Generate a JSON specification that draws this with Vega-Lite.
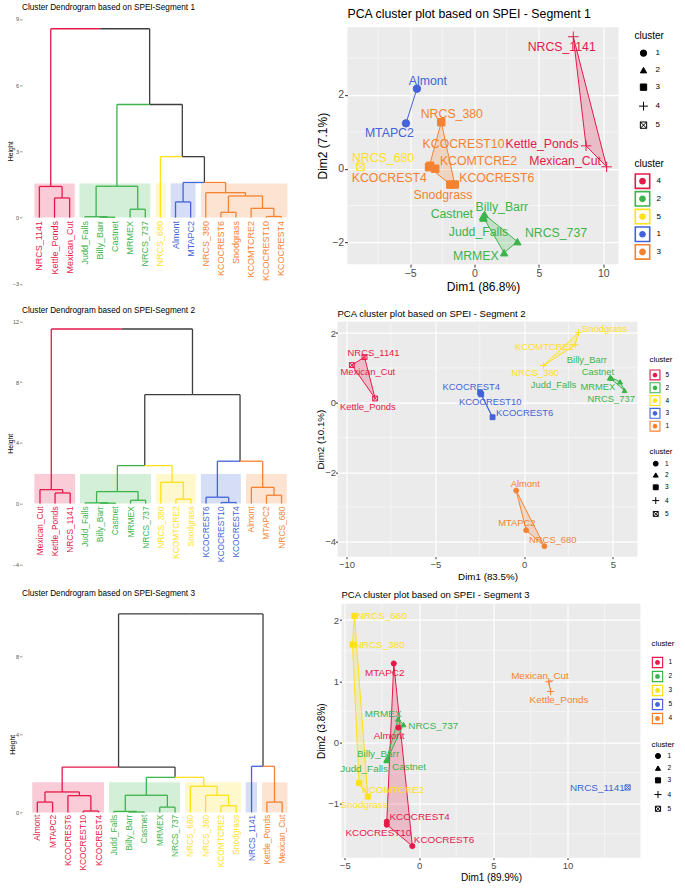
{
"$schema": "https://vega.github.io/schema/vega-lite/v6.json",
"background": "white",
"padding": {"left": 6, "top": 0, "right": 0, "bottom": 0},
"config": {
  "font": "Liberation Sans",
  "view": {"stroke": null},
  "axis": {"domain": false, "titleFontWeight": "normal", "tickColor": "#333333", "labelColor": "#4D4D4D", "titleColor": "black", "gridColor": "white"},
  "legend": {"titleFontWeight": "normal", "titleColor": "black", "labelColor": "black"},
  "title": {"fontWeight": "normal", "anchor": "start", "frame": "group", "color": "black"}
},
"datasets": {
  "none": [],
  "r1": [{"xs":0.67,"xe":3.33,"g":1},{"xs":3.65,"xe":8.33,"g":2},{"xs":8.68,"xe":9.35,"g":3},{"xs":9.68,"xe":11.32,"g":4},{"xs":11.68,"xe":17.4,"g":5}],
  "l1": [{"i":1,"name":"NRCS_1141","g":1},{"i":2,"name":"Kettle_Ponds","g":1},{"i":3,"name":"Mexican_Cut","g":1},{"i":4,"name":"Judd_Falls","g":2},{"i":5,"name":"Billy_Barr","g":2},{"i":6,"name":"Castnet","g":2},{"i":7,"name":"MRMEX","g":2},{"i":8,"name":"NRCS_737","g":2},{"i":9,"name":"NRCS_680","g":3},{"i":10,"name":"Almont","g":4},{"i":11,"name":"MTAPC2","g":4},{"i":12,"name":"NRCS_380","g":5},{"i":13,"name":"KCOCREST6","g":5},{"i":14,"name":"Snodgrass","g":5},{"i":15,"name":"KCOMTCRE2","g":5},{"i":16,"name":"KCOCREST10","g":5},{"i":17,"name":"KCOCREST4","g":5}],
  "e1": [
    {"cx":2,"ch":0,"px":2.5,"ph":0.89,"g":1},{"cx":3,"ch":0,"px":2.5,"ph":0.89,"g":1},{"cx":1,"ch":0,"px":1.75,"ph":1.41,"g":1},{"cx":2.5,"ch":0.89,"px":1.75,"ph":1.41,"g":1},{"cx":1.75,"ch":1.41,"px":5.02,"ph":8.55,"g":1},
    {"cx":5,"ch":0,"px":5.5,"ph":0.02,"g":2},{"cx":6,"ch":0,"px":5.5,"ph":0.02,"g":2},{"cx":4,"ch":0,"px":4.75,"ph":0.04,"g":2},{"cx":5.5,"ch":0.02,"px":4.75,"ph":0.04,"g":2},{"cx":7,"ch":0,"px":7.5,"ph":0.38,"g":2},{"cx":8,"ch":0,"px":7.5,"ph":0.38,"g":2},{"cx":4.75,"ch":0.04,"px":6.125,"ph":1.42,"g":2},{"cx":7.5,"ch":0.38,"px":6.125,"ph":1.42,"g":2},{"cx":6.125,"ch":1.42,"px":8.29,"ph":5.12,"g":2},
    {"cx":9,"ch":0,"px":10.45,"ph":2.76,"g":3},
    {"cx":10,"ch":0,"px":10.5,"ph":0.71,"g":4},{"cx":11,"ch":0,"px":10.5,"ph":0.71,"g":4},{"cx":10.5,"ch":0.71,"px":11.91,"ph":1.59,"g":4},
    {"cx":13,"ch":0,"px":13.5,"ph":0.24,"g":5},{"cx":14,"ch":0,"px":13.5,"ph":0.24,"g":5},{"cx":16,"ch":0,"px":16.5,"ph":0.05,"g":5},{"cx":17,"ch":0,"px":16.5,"ph":0.05,"g":5},{"cx":15,"ch":0,"px":15.75,"ph":0.42,"g":5},{"cx":16.5,"ch":0.05,"px":15.75,"ph":0.42,"g":5},{"cx":13.5,"ch":0.24,"px":14.625,"ph":0.98,"g":5},{"cx":15.75,"ch":0.42,"px":14.625,"ph":0.98,"g":5},{"cx":12,"ch":0,"px":13.31,"ph":1.13,"g":5},{"cx":14.625,"ch":0.98,"px":13.31,"ph":1.13,"g":5},{"cx":13.31,"ch":1.13,"px":11.91,"ph":1.59,"g":5},
    {"cx":11.91,"ch":1.59,"px":10.45,"ph":2.76,"g":0},{"cx":10.45,"ch":2.76,"px":8.29,"ph":5.12,"g":0},{"cx":8.29,"ch":5.12,"px":5.02,"ph":8.55,"g":0}
  ],
  "r2": [{"xs":0.63,"xe":3.33,"g":1},{"xs":3.65,"xe":8.35,"g":2},{"xs":8.67,"xe":11.32,"g":3},{"xs":11.66,"xe":14.3,"g":4},{"xs":14.64,"xe":17.35,"g":5}],
  "l2": [{"i":1,"name":"Mexican_Cut","g":1},{"i":2,"name":"Kettle_Ponds","g":1},{"i":3,"name":"NRCS_1141","g":1},{"i":4,"name":"Judd_Falls","g":2},{"i":5,"name":"Billy_Barr","g":2},{"i":6,"name":"Castnet","g":2},{"i":7,"name":"MRMEX","g":2},{"i":8,"name":"NRCS_737","g":2},{"i":9,"name":"NRCS_380","g":3},{"i":10,"name":"KCOMTCRE2","g":3},{"i":11,"name":"Snodgrass","g":3},{"i":12,"name":"KCOCREST6","g":4},{"i":13,"name":"KCOCREST10","g":4},{"i":14,"name":"KCOCREST4","g":4},{"i":15,"name":"Almont","g":5},{"i":16,"name":"MTAPC2","g":5},{"i":17,"name":"NRCS_680","g":5}],
  "e2": [
    {"cx":2,"ch":0,"px":2.5,"ph":0.70,"g":1},{"cx":3,"ch":0,"px":2.5,"ph":0.70,"g":1},{"cx":1,"ch":0,"px":1.75,"ph":0.92,"g":1},{"cx":2.5,"ch":0.70,"px":1.75,"ph":0.92,"g":1},{"cx":1.75,"ch":0.92,"px":6.42,"ph":11.49,"g":1},
    {"cx":5,"ch":0,"px":5.5,"ph":0.03,"g":2},{"cx":6,"ch":0,"px":5.5,"ph":0.03,"g":2},{"cx":4,"ch":0,"px":4.75,"ph":0.05,"g":2},{"cx":5.5,"ch":0.03,"px":4.75,"ph":0.05,"g":2},{"cx":7,"ch":0,"px":7.5,"ph":0.22,"g":2},{"cx":8,"ch":0,"px":7.5,"ph":0.22,"g":2},{"cx":4.75,"ch":0.05,"px":6.125,"ph":0.79,"g":2},{"cx":7.5,"ch":0.22,"px":6.125,"ph":0.79,"g":2},{"cx":6.125,"ch":0.79,"px":7.94,"ph":2.5,"g":2},
    {"cx":10,"ch":0,"px":10.5,"ph":0.29,"g":3},{"cx":11,"ch":0,"px":10.5,"ph":0.29,"g":3},{"cx":9,"ch":0,"px":9.75,"ph":1.40,"g":3},{"cx":10.5,"ch":0.29,"px":9.75,"ph":1.40,"g":3},{"cx":9.75,"ch":1.40,"px":7.94,"ph":2.5,"g":3},
    {"cx":13,"ch":0,"px":13.5,"ph":0.07,"g":4},{"cx":14,"ch":0,"px":13.5,"ph":0.07,"g":4},{"cx":12,"ch":0,"px":12.75,"ph":0.42,"g":4},{"cx":13.5,"ch":0.07,"px":12.75,"ph":0.42,"g":4},{"cx":12.75,"ch":0.42,"px":14.25,"ph":2.79,"g":4},
    {"cx":16,"ch":0,"px":16.5,"ph":0.55,"g":5},{"cx":17,"ch":0,"px":16.5,"ph":0.55,"g":5},{"cx":15,"ch":0,"px":15.75,"ph":1.07,"g":5},{"cx":16.5,"ch":0.55,"px":15.75,"ph":1.07,"g":5},{"cx":15.75,"ch":1.07,"px":14.25,"ph":2.79,"g":5},
    {"cx":7.94,"ch":2.5,"px":11.1,"ph":7.17,"g":0},{"cx":14.25,"ch":2.79,"px":11.1,"ph":7.17,"g":0},{"cx":11.1,"ch":7.17,"px":6.42,"ph":11.49,"g":0}
  ],
  "r3": [{"xs":0.67,"xe":5.36,"g":1},{"xs":5.69,"xe":10.33,"g":2},{"xs":10.65,"xe":14.31,"g":3},{"xs":14.62,"xe":15.36,"g":4},{"xs":15.68,"xe":17.35,"g":5}],
  "l3": [{"i":1,"name":"Almont","g":1},{"i":2,"name":"MTAPC2","g":1},{"i":3,"name":"KCOCREST6","g":1},{"i":4,"name":"KCOCREST10","g":1},{"i":5,"name":"KCOCREST4","g":1},{"i":6,"name":"Judd_Falls","g":2},{"i":7,"name":"Billy_Barr","g":2},{"i":8,"name":"Castnet","g":2},{"i":9,"name":"MRMEX","g":2},{"i":10,"name":"NRCS_737","g":2},{"i":11,"name":"NRCS_680","g":3},{"i":12,"name":"NRCS_380","g":3},{"i":13,"name":"KCOMTCRE2","g":3},{"i":14,"name":"Snodgrass","g":3},{"i":15,"name":"NRCS_1141","g":4},{"i":16,"name":"Kettle_Ponds","g":5},{"i":17,"name":"Mexican_Cut","g":5}],
  "e3": [
    {"cx":1,"ch":0,"px":1.5,"ph":0.53,"g":1},{"cx":2,"ch":0,"px":1.5,"ph":0.53,"g":1},{"cx":4,"ch":0,"px":4.5,"ph":0.07,"g":1},{"cx":5,"ch":0,"px":4.5,"ph":0.07,"g":1},{"cx":3,"ch":0,"px":3.75,"ph":0.86,"g":1},{"cx":4.5,"ch":0.07,"px":3.75,"ph":0.86,"g":1},{"cx":1.5,"ch":0.53,"px":2.625,"ph":1.05,"g":1},{"cx":3.75,"ch":0.86,"px":2.625,"ph":1.05,"g":1},{"cx":2.625,"ch":1.05,"px":6.31,"ph":2.33,"g":1},
    {"cx":7,"ch":0,"px":7.5,"ph":0.02,"g":2},{"cx":8,"ch":0,"px":7.5,"ph":0.02,"g":2},{"cx":6,"ch":0,"px":6.75,"ph":0.05,"g":2},{"cx":7.5,"ch":0.02,"px":6.75,"ph":0.05,"g":2},{"cx":9,"ch":0,"px":9.5,"ph":0.27,"g":2},{"cx":10,"ch":0,"px":9.5,"ph":0.27,"g":2},{"cx":6.75,"ch":0.05,"px":8.125,"ph":0.88,"g":2},{"cx":9.5,"ch":0.27,"px":8.125,"ph":0.88,"g":2},{"cx":8.125,"ch":0.88,"px":10.0,"ph":1.80,"g":2},
    {"cx":13,"ch":0,"px":13.5,"ph":0.34,"g":3},{"cx":14,"ch":0,"px":13.5,"ph":0.34,"g":3},{"cx":12,"ch":0,"px":12.75,"ph":0.88,"g":3},{"cx":13.5,"ch":0.34,"px":12.75,"ph":0.88,"g":3},{"cx":11,"ch":0,"px":11.875,"ph":1.34,"g":3},{"cx":12.75,"ch":0.88,"px":11.875,"ph":1.34,"g":3},{"cx":11.875,"ch":1.34,"px":10.0,"ph":1.80,"g":3},
    {"cx":15,"ch":0,"px":15.75,"ph":2.37,"g":4},
    {"cx":16,"ch":0,"px":16.5,"ph":0.53,"g":5},{"cx":17,"ch":0,"px":16.5,"ph":0.53,"g":5},{"cx":16.5,"ch":0.53,"px":15.75,"ph":2.37,"g":5},
    {"cx":10.0,"ch":1.80,"px":6.31,"ph":2.33,"g":0},{"cx":6.31,"ch":2.33,"px":11.03,"ph":10.2,"g":0},{"cx":15.75,"ch":2.37,"px":11.03,"ph":10.2,"g":0}
  ],
  "mx1": [{"v":-7.5},{"v":-2.5},{"v":2.5},{"v":7.5}],
  "my1": [{"v":-1},{"v":1},{"v":3}],
  "mx2": [{"v":-7.5},{"v":-2.5},{"v":2.5}],
  "my2": [{"v":-3},{"v":-1},{"v":1}],
  "mx3": [{"v":-2.5},{"v":2.5},{"v":7.5},{"v":12.5}],
  "my3": [{"v":-1.5},{"v":-0.5},{"v":0.5},{"v":1.5}],
  "h1": [
    {"cl":1,"o":1,"x":-4.47,"y":2.17},{"cl":1,"o":2,"x":-5.32,"y":1.23},
    {"cl":2,"o":1,"x":0.78,"y":-1.24},{"cl":2,"o":2,"x":3.33,"y":-1.98},{"cl":2,"o":3,"x":2.30,"y":-2.28},{"cl":2,"o":4,"x":0.66,"y":-1.30},{"cl":2,"o":5,"x":0.78,"y":-1.24},
    {"cl":3,"o":1,"x":-2.58,"y":1.26},{"cl":3,"o":2,"x":-1.53,"y":-0.43},{"cl":3,"o":3,"x":-1.88,"y":-0.43},{"cl":3,"o":4,"x":-3.53,"y":0.04},{"cl":3,"o":5,"x":-2.58,"y":1.26},
    {"cl":4,"o":1,"x":7.67,"y":3.58},{"cl":4,"o":2,"x":10.26,"y":0.05},{"cl":4,"o":3,"x":8.66,"y":0.62},{"cl":4,"o":4,"x":7.67,"y":3.58}
  ],
  "p1": [
    {"name":"Almont","cl":1,"k":1,"x":-4.47,"y":2.17,"lx":-3.62,"ly":2.39},
    {"name":"MTAPC2","cl":1,"k":1,"x":-5.32,"y":1.23,"lx":-6.61,"ly":0.98},
    {"name":"Judd_Falls","cl":2,"k":2,"x":0.70,"y":-1.34,"lx":0.31,"ly":-1.73},
    {"name":"Billy_Barr","cl":2,"k":2,"x":0.78,"y":-1.24,"lx":2.12,"ly":-1.04},
    {"name":"Castnet","cl":2,"k":2,"x":0.66,"y":-1.30,"lx":-1.76,"ly":-1.24},
    {"name":"MRMEX","cl":2,"k":2,"x":2.30,"y":-2.28,"lx":0.10,"ly":-2.38},
    {"name":"NRCS_737","cl":2,"k":2,"x":3.33,"y":-1.98,"lx":6.33,"ly":-1.75},
    {"name":"NRCS_380","cl":3,"k":3,"x":-2.58,"y":1.26,"lx":-1.76,"ly":1.49},
    {"name":"KCOCREST10","cl":3,"k":3,"x":-3.45,"y":0.08,"lx":-0.85,"ly":0.66},
    {"name":"KCOMTCRE2","cl":3,"k":3,"x":-3.05,"y":0.0,"lx":0.31,"ly":0.21},
    {"name":"KCOCREST4","cl":3,"k":3,"x":-3.53,"y":0.04,"lx":-6.61,"ly":-0.24},
    {"name":"KCOCREST6","cl":3,"k":3,"x":-1.53,"y":-0.43,"lx":1.73,"ly":-0.24},
    {"name":"Snodgrass","cl":3,"k":3,"x":-1.88,"y":-0.43,"lx":-2.45,"ly":-0.72},
    {"name":"NRCS_1141","cl":4,"k":4,"x":7.67,"y":3.58,"lx":6.77,"ly":3.30},
    {"name":"Kettle_Ponds","cl":4,"k":4,"x":8.66,"y":0.62,"lx":5.25,"ly":0.66},
    {"name":"Mexican_Cut","cl":4,"k":4,"x":10.26,"y":0.05,"lx":7.03,"ly":0.21},
    {"name":"NRCS_680","cl":5,"k":5,"x":-8.86,"y":0.05,"lx":-7.1,"ly":0.30}
  ],
  "h2": [
    {"cl":1,"o":1,"x":-0.45,"y":-2.53},{"cl":1,"o":2,"x":1.14,"y":-4.13},{"cl":1,"o":3,"x":0.11,"y":-3.67},{"cl":1,"o":4,"x":-0.45,"y":-2.53},
    {"cl":2,"o":1,"x":4.82,"y":0.71},{"cl":2,"o":2,"x":4.86,"y":0.73},{"cl":2,"o":3,"x":5.40,"y":0.60},{"cl":2,"o":4,"x":5.65,"y":0.35},{"cl":2,"o":5,"x":4.82,"y":0.71},
    {"cl":3,"o":1,"x":-2.48,"y":0.29},{"cl":3,"o":2,"x":-1.78,"y":-0.42},{"cl":3,"o":3,"x":-2.42,"y":0.24},{"cl":3,"o":4,"x":-2.48,"y":0.29},
    {"cl":4,"o":1,"x":3.06,"y":2.02},{"cl":4,"o":2,"x":1.09,"y":1.07},{"cl":4,"o":3,"x":2.87,"y":1.66},{"cl":4,"o":4,"x":3.06,"y":2.02},
    {"cl":5,"o":1,"x":-8.99,"y":1.31},{"cl":5,"o":2,"x":-8.39,"y":0.12},{"cl":5,"o":3,"x":-9.70,"y":1.08},{"cl":5,"o":4,"x":-8.99,"y":1.31}
  ],
  "p2": [
    {"name":"Almont","cl":1,"k":1,"x":-0.45,"y":-2.53,"lx":0.06,"ly":-2.34},
    {"name":"MTAPC2","cl":1,"k":1,"x":0.11,"y":-3.67,"lx":-0.41,"ly":-3.47},
    {"name":"NRCS_680","cl":1,"k":1,"x":1.14,"y":-4.13,"lx":1.61,"ly":-3.95},
    {"name":"Judd_Falls","cl":2,"k":2,"x":4.82,"y":0.71,"lx":1.65,"ly":0.51},
    {"name":"Billy_Barr","cl":2,"k":2,"x":4.86,"y":0.73,"lx":3.53,"ly":1.23},
    {"name":"Castnet","cl":2,"k":2,"x":4.92,"y":0.70,"lx":4.15,"ly":0.89},
    {"name":"MRMEX","cl":2,"k":2,"x":5.40,"y":0.60,"lx":4.15,"ly":0.44},
    {"name":"NRCS_737","cl":2,"k":2,"x":5.65,"y":0.35,"lx":4.90,"ly":0.10},
    {"name":"KCOCREST4","cl":3,"k":3,"x":-2.48,"y":0.29,"lx":-2.98,"ly":0.46},
    {"name":"KCOCREST10","cl":3,"k":3,"x":-2.42,"y":0.24,"lx":-1.91,"ly":0.03},
    {"name":"KCOCREST6","cl":3,"k":3,"x":-1.78,"y":-0.42,"lx":0.02,"ly":-0.31},
    {"name":"Snodgrass","cl":4,"k":4,"x":3.06,"y":2.02,"lx":4.52,"ly":2.12},
    {"name":"KCOMTCRE2","cl":4,"k":4,"x":2.87,"y":1.66,"lx":1.14,"ly":1.59},
    {"name":"NRCS_380","cl":4,"k":4,"x":1.09,"y":1.07,"lx":0.62,"ly":0.86},
    {"name":"NRCS_1141","cl":5,"k":5,"x":-8.99,"y":1.31,"lx":-8.48,"ly":1.44},
    {"name":"Mexican_Cut","cl":5,"k":5,"x":-9.70,"y":1.08,"lx":-8.80,"ly":0.87},
    {"name":"Kettle_Ponds","cl":5,"k":5,"x":-8.39,"y":0.12,"lx":-8.80,"ly":-0.12}
  ],
  "h3": [
    {"cl":1,"o":1,"x":-1.70,"y":1.29},{"cl":1,"o":2,"x":-0.45,"y":-1.70},{"cl":1,"o":3,"x":-2.17,"y":-1.35},{"cl":1,"o":4,"x":-2.17,"y":-1.30},{"cl":1,"o":5,"x":-1.70,"y":1.29},
    {"cl":2,"o":1,"x":-1.41,"y":0.38},{"cl":2,"o":2,"x":-1.05,"y":0.29},{"cl":2,"o":3,"x":-2.17,"y":-0.30},{"cl":2,"o":4,"x":-2.20,"y":-0.29},{"cl":2,"o":5,"x":-1.41,"y":0.38},
    {"cl":3,"o":1,"x":-4.35,"y":2.07},{"cl":3,"o":2,"x":-3.45,"y":-0.89},{"cl":3,"o":3,"x":-4.04,"y":-0.67},{"cl":3,"o":4,"x":-4.48,"y":1.60},{"cl":3,"o":5,"x":-4.35,"y":2.07},
    {"cl":4,"o":1,"x":8.74,"y":0.99},{"cl":4,"o":2,"x":8.86,"y":0.83}
  ],
  "p3": [
    {"name":"Almont","cl":1,"k":1,"x":-1.39,"y":0.24,"lx":-2.02,"ly":0.10},
    {"name":"MTAPC2","cl":1,"k":1,"x":-1.70,"y":1.29,"lx":-2.31,"ly":1.14},
    {"name":"KCOCREST6","cl":1,"k":1,"x":-0.45,"y":-1.70,"lx":1.68,"ly":-1.60},
    {"name":"KCOCREST10","cl":1,"k":1,"x":-2.17,"y":-1.35,"lx":-2.74,"ly":-1.49},
    {"name":"KCOCREST4","cl":1,"k":1,"x":-2.17,"y":-1.30,"lx":0.04,"ly":-1.23},
    {"name":"Judd_Falls","cl":2,"k":2,"x":-2.17,"y":-0.30,"lx":-3.70,"ly":-0.44},
    {"name":"Billy_Barr","cl":2,"k":2,"x":-2.20,"y":-0.29,"lx":-2.76,"ly":-0.20},
    {"name":"Castnet","cl":2,"k":2,"x":-2.13,"y":-0.27,"lx":-0.67,"ly":-0.40},
    {"name":"MRMEX","cl":2,"k":2,"x":-1.41,"y":0.38,"lx":-2.42,"ly":0.47},
    {"name":"NRCS_737","cl":2,"k":2,"x":-1.05,"y":0.29,"lx":0.96,"ly":0.26},
    {"name":"NRCS_680","cl":3,"k":3,"x":-4.35,"y":2.07,"lx":-2.51,"ly":2.07},
    {"name":"NRCS_380","cl":3,"k":3,"x":-4.48,"y":1.60,"lx":-2.65,"ly":1.60},
    {"name":"KCOMTCRE2","cl":3,"k":3,"x":-4.04,"y":-0.67,"lx":-1.75,"ly":-0.79},
    {"name":"Snodgrass","cl":3,"k":3,"x":-3.45,"y":-0.89,"lx":-3.70,"ly":-1.03},
    {"name":"Mexican_Cut","cl":4,"k":4,"x":8.74,"y":0.99,"lx":8.14,"ly":1.09},
    {"name":"Kettle_Ponds","cl":4,"k":4,"x":8.86,"y":0.83,"lx":9.42,"ly":0.69},
    {"name":"NRCS_1141","cl":5,"k":5,"x":14.04,"y":-0.74,"lx":12.0,"ly":-0.75}
  ]
},
"resolve": {"scale": {"color": "independent", "fill": "independent", "stroke": "independent", "shape": "independent"}},
"spacing": 5.5,
"hconcat": [
 {"spacing": 1.3,
  "resolve": {"scale": {"color": "independent", "fill": "independent", "stroke": "independent", "shape": "independent"}},
  "vconcat": [
  {"width": 1, "height": 1, "data": {"name": "none"}, "mark": "point"},
  {"spacing": 17.4,
   "resolve": {"scale": {"color": "independent", "fill": "independent", "stroke": "independent", "shape": "independent"}},
   "vconcat": [
   {"title": {"text": "Cluster Dendrogram based on SPEI-Segment 1", "fontSize": 8.2, "offset": 1},
    "width": 273, "height": 275,
    "layer": [
     {"data": {"name": "r1"}, "mark": {"type": "rect", "opacity": 0.22},
      "encoding": {"x": {"field": "xs", "type": "quantitative", "scale": {"domain": [-0.15, 17.9], "nice": false, "zero": false}, "axis": null},
        "x2": {"field": "xe"},
        "y": {"datum": 0, "type": "quantitative", "title": "Height", "scale": {"domain": [-3.2, 9.25], "nice": false, "zero": false},
              "axis": {"values": [-3, 0, 3, 6, 9], "format": "d", "title": "Height", "titleFontSize": 6.9, "labelFontSize": 5.5, "tickSize": 2.5, "labelPadding": 1, "titlePadding": 2, "minExtent": 7, "maxExtent": 7, "grid": false, "tickColor": "#555555", "tickWidth": 0.6, "labelColor": "#555555"}},
        "y2": {"datum": 1.55},
        "color": {"field": "g", "type": "nominal", "scale": {"domain": [0,1,2,3,4,5], "range": ["#3d3d3d","#E6194B","#3CB44B","#FFE119","#4363D8","#F58231"]}, "legend": null}}},
     {"data": {"name": "e1"}, "mark": {"type": "rule", "strokeWidth": 1.3},
      "encoding": {"x": {"field": "cx", "type": "quantitative", "axis": null}, "y": {"field": "ch", "type": "quantitative", "title": "Height"}, "y2": {"field": "ph"},
        "color": {"field": "g", "type": "nominal", "scale": {"domain": [0,1,2,3,4,5], "range": ["#3d3d3d","#E6194B","#3CB44B","#FFE119","#4363D8","#F58231"]}, "legend": null}}},
     {"data": {"name": "e1"}, "mark": {"type": "rule", "strokeWidth": 1.3},
      "encoding": {"x": {"field": "cx", "type": "quantitative", "axis": null}, "x2": {"field": "px"}, "y": {"field": "ph", "type": "quantitative", "title": "Height"},
        "color": {"field": "g", "type": "nominal", "scale": {"domain": [0,1,2,3,4,5], "range": ["#3d3d3d","#E6194B","#3CB44B","#FFE119","#4363D8","#F58231"]}, "legend": null}}},
     {"data": {"name": "l1"}, "mark": {"type": "text", "angle": 270, "align": "right", "baseline": "middle", "fontSize": 9},
      "encoding": {"x": {"field": "i", "type": "quantitative", "axis": null}, "y": {"datum": -0.15, "type": "quantitative", "title": "Height"}, "text": {"field": "name"},
        "color": {"field": "g", "type": "nominal", "scale": {"domain": [0,1,2,3,4,5], "range": ["#3d3d3d","#E6194B","#3CB44B","#FFE119","#4363D8","#F58231"]}, "legend": null}}}
    ]},
   {"spacing": 18.6,
    "resolve": {"scale": {"color": "independent", "fill": "independent", "stroke": "independent", "shape": "independent"}},
    "vconcat": [
    {"title": {"text": "Cluster Dendrogram based on SPEI-Segment 2", "fontSize": 8.2, "offset": 1.5},
     "width": 273, "height": 253,
     "layer": [
      {"data": {"name": "r2"}, "mark": {"type": "rect", "opacity": 0.22},
       "encoding": {"x": {"field": "xs", "type": "quantitative", "scale": {"domain": [-0.19, 17.89], "nice": false, "zero": false}, "axis": null},
         "x2": {"field": "xe"},
         "y": {"datum": 0, "type": "quantitative", "title": "Height", "scale": {"domain": [-4.35, 12.3], "nice": false, "zero": false},
               "axis": {"values": [-4, 0, 4, 8, 12], "format": "d", "title": "Height", "titleFontSize": 6.9, "labelFontSize": 5.5, "tickSize": 2.5, "labelPadding": 1, "titlePadding": 2, "minExtent": 7, "maxExtent": 7, "grid": false, "tickColor": "#555555", "tickWidth": 0.6, "labelColor": "#555555"}},
         "y2": {"datum": 1.95},
         "color": {"field": "g", "type": "nominal", "scale": {"domain": [0,1,2,3,4,5], "range": ["#3d3d3d","#E6194B","#3CB44B","#FFE119","#4363D8","#F58231"]}, "legend": null}}},
      {"data": {"name": "e2"}, "mark": {"type": "rule", "strokeWidth": 1.3},
       "encoding": {"x": {"field": "cx", "type": "quantitative", "axis": null}, "y": {"field": "ch", "type": "quantitative", "title": "Height"}, "y2": {"field": "ph"},
         "color": {"field": "g", "type": "nominal", "scale": {"domain": [0,1,2,3,4,5], "range": ["#3d3d3d","#E6194B","#3CB44B","#FFE119","#4363D8","#F58231"]}, "legend": null}}},
      {"data": {"name": "e2"}, "mark": {"type": "rule", "strokeWidth": 1.3},
       "encoding": {"x": {"field": "cx", "type": "quantitative", "axis": null}, "x2": {"field": "px"}, "y": {"field": "ph", "type": "quantitative", "title": "Height"},
         "color": {"field": "g", "type": "nominal", "scale": {"domain": [0,1,2,3,4,5], "range": ["#3d3d3d","#E6194B","#3CB44B","#FFE119","#4363D8","#F58231"]}, "legend": null}}},
      {"data": {"name": "l2"}, "mark": {"type": "text", "angle": 270, "align": "right", "baseline": "middle", "fontSize": 8.4},
       "encoding": {"x": {"field": "i", "type": "quantitative", "axis": null}, "y": {"datum": -0.18, "type": "quantitative", "title": "Height"}, "text": {"field": "name"},
         "color": {"field": "g", "type": "nominal", "scale": {"domain": [0,1,2,3,4,5], "range": ["#3d3d3d","#E6194B","#3CB44B","#FFE119","#4363D8","#F58231"]}, "legend": null}}}
     ]},
    {"title": {"text": "Cluster Dendrogram based on SPEI-Segment 3", "fontSize": 8.2, "offset": 4},
     "width": 273, "height": 284,
     "layer": [
      {"data": {"name": "r3"}, "mark": {"type": "rect", "opacity": 0.22},
       "encoding": {"x": {"field": "xs", "type": "quantitative", "scale": {"domain": [0, 17.84], "nice": false, "zero": false}, "axis": null},
         "x2": {"field": "xe"},
         "y": {"datum": 0, "type": "quantitative", "title": "Height", "scale": {"domain": [-3.8, 10.8], "nice": false, "zero": false},
               "axis": {"values": [0, 4, 8], "format": "d", "title": "Height", "titleFontSize": 6.9, "labelFontSize": 5.5, "tickSize": 2.5, "labelPadding": 1, "titlePadding": 2, "minExtent": 5, "maxExtent": 5, "grid": false, "tickColor": "#555555", "tickWidth": 0.6, "labelColor": "#555555"}},
         "y2": {"datum": 1.55},
         "color": {"field": "g", "type": "nominal", "scale": {"domain": [0,1,2,3,4,5], "range": ["#3d3d3d","#E6194B","#3CB44B","#FFE119","#4363D8","#F58231"]}, "legend": null}}},
      {"data": {"name": "e3"}, "mark": {"type": "rule", "strokeWidth": 1.3},
       "encoding": {"x": {"field": "cx", "type": "quantitative", "axis": null}, "y": {"field": "ch", "type": "quantitative", "title": "Height"}, "y2": {"field": "ph"},
         "color": {"field": "g", "type": "nominal", "scale": {"domain": [0,1,2,3,4,5], "range": ["#3d3d3d","#E6194B","#3CB44B","#FFE119","#4363D8","#F58231"]}, "legend": null}}},
      {"data": {"name": "e3"}, "mark": {"type": "rule", "strokeWidth": 1.3},
       "encoding": {"x": {"field": "cx", "type": "quantitative", "axis": null}, "x2": {"field": "px"}, "y": {"field": "ph", "type": "quantitative", "title": "Height"},
         "color": {"field": "g", "type": "nominal", "scale": {"domain": [0,1,2,3,4,5], "range": ["#3d3d3d","#E6194B","#3CB44B","#FFE119","#4363D8","#F58231"]}, "legend": null}}},
      {"data": {"name": "l3"}, "mark": {"type": "text", "angle": 270, "align": "right", "baseline": "middle", "fontSize": 8.4},
       "encoding": {"x": {"field": "i", "type": "quantitative", "axis": null}, "y": {"datum": -0.12, "type": "quantitative", "title": "Height"}, "text": {"field": "name"},
         "color": {"field": "g", "type": "nominal", "scale": {"domain": [0,1,2,3,4,5], "range": ["#3d3d3d","#E6194B","#3CB44B","#FFE119","#4363D8","#F58231"]}, "legend": null}}}
     ]}
   ]}
  ]}
 ]},
 {"spacing": 6.15,
  "resolve": {"scale": {"color": "independent", "fill": "independent", "stroke": "independent", "shape": "independent"}},
  "vconcat": [
  {"width": 1, "height": 1, "data": {"name": "none"}, "mark": "point"},
  {"spacing": 15.5,
   "resolve": {"scale": {"color": "independent", "fill": "independent", "stroke": "independent", "shape": "independent"}},
   "vconcat": [
   {"spacing": 14,
    "resolve": {"scale": {"color": "independent", "fill": "independent", "stroke": "independent", "shape": "independent"}},
    "hconcat": [
    {"width": 1, "height": 1, "data": {"name": "none"}, "mark": "point"},
    {"title": {"text": "PCA cluster plot based on SPEI - Segment 1", "fontSize": 12.3, "offset": 6.55},
     "width": 271, "height": 237,
     "view": {"fill": "#EBEBEB", "stroke": null},
     "layer": [
      {"data": {"name": "mx1"}, "mark": {"type": "rule", "color": "white", "strokeWidth": 0.5},
       "encoding": {"x": {"field": "v", "type": "quantitative", "title": "Dim1 (86.8%)", "scale": {"domain": [-9.86, 11.18], "nice": false, "zero": false},
         "axis": {"values": [-5, 0, 5, 10], "format": "d", "title": "Dim1 (86.8%)", "titleFontSize": 12, "labelFontSize": 10.5, "tickSize": 3, "labelPadding": 1, "titlePadding": 3, "grid": true, "gridWidth": 1.1}}}},
      {"data": {"name": "my1"}, "mark": {"type": "rule", "color": "white", "strokeWidth": 0.5},
       "encoding": {"y": {"field": "v", "type": "quantitative", "title": "Dim2 (7.1%)", "scale": {"domain": [-2.59, 3.84], "nice": false, "zero": false},
         "axis": {"values": [-2, 0, 2], "format": "d", "title": "Dim2 (7.1%)", "titleFontSize": 12, "labelFontSize": 10.5, "tickSize": 3, "labelPadding": 1, "titlePadding": 2.2, "minExtent": 16, "maxExtent": 16, "grid": true, "gridWidth": 1.1}}}},
      {"data": {"name": "h1"}, "mark": {"type": "line", "strokeWidth": 1, "fillOpacity": 0.22},
       "encoding": {"x": {"field": "x", "type": "quantitative", "title": "Dim1 (86.8%)"}, "y": {"field": "y", "type": "quantitative", "title": "Dim2 (7.1%)"},
         "order": {"field": "o", "type": "quantitative"},
         "stroke": {"field": "cl", "type": "nominal", "scale": {"domain": [4,2,5,1,3], "range": ["#E6194B","#3CB44B","#FFE119","#4363D8","#F58231"]}, "legend": null},
         "fill": {"field": "cl", "type": "nominal", "title": "cluster", "scale": {"domain": [4,2,5,1,3], "range": ["#E6194B","#3CB44B","#FFE119","#4363D8","#F58231"]}}}},
      {"data": {"name": "p1"}, "mark": {"type": "point", "filled": true, "size": 55, "strokeWidth": 1, "opacity": 1},
       "encoding": {"x": {"field": "x", "type": "quantitative", "title": "Dim1 (86.8%)"}, "y": {"field": "y", "type": "quantitative", "title": "Dim2 (7.1%)"},
         "fill": {"field": "cl", "type": "nominal", "title": "cluster", "scale": {"domain": [4,2,5,1,3], "range": ["#E6194B","#3CB44B","#FFE119","#4363D8","#F58231"]},
           "legend": {"title": "cluster", "orient": "none", "legendX": 287, "legendY": 132, "symbolType": "M-1,-1L1,-1L1,1L-1,1Z M-0.8,-0.8L-0.8,0.8L0.8,0.8L0.8,-0.8Z M0.42,0A0.42,0.42 0 1,1 -0.42,0A0.42,0.42 0 1,1 0.42,0Z", "symbolSize": 256, "symbolStrokeWidth": 0, "symbolOpacity": 1, "rowPadding": 1.7, "labelOffset": 6, "titleFontSize": 10, "labelFontSize": 8, "titlePadding": 4}},
         "stroke": {"field": "cl", "type": "nominal", "scale": {"domain": [4,2,5,1,3], "range": ["#E6194B","#3CB44B","#FFE119","#4363D8","#F58231"]}, "legend": null},
         "shape": {"field": "k", "type": "nominal", "scale": {"domain": [1,2,3,4,5], "range": ["circle","triangle-up","square","M-1.4,0L1.4,0M0,-1.4L0,1.4","M-1,-1L1,-1M1,-1L1,1M1,1L-1,1M-1,1L-1,-1M-1,-1L1,1M-1,1L1,-1"]},
           "legend": {"title": "cluster", "orient": "none", "legendX": 287, "legendY": 4, "symbolSize": 40, "symbolFillColor": "black", "symbolStrokeColor": "black", "symbolStrokeWidth": 1, "rowPadding": 6, "labelOffset": 8, "titleFontSize": 10, "labelFontSize": 8, "titlePadding": 8, "symbolOffset": 5}}}},
      {"data": {"name": "p1"}, "mark": {"type": "text", "fontSize": 12.3},
       "encoding": {"x": {"field": "lx", "type": "quantitative", "title": "Dim1 (86.8%)"}, "y": {"field": "ly", "type": "quantitative", "title": "Dim2 (7.1%)"}, "text": {"field": "name"},
         "fill": {"field": "cl", "type": "nominal", "title": "cluster", "scale": {"domain": [4,2,5,1,3], "range": ["#E6194B","#3CB44B","#FFE119","#4363D8","#F58231"]}}}}
     ]}
    ]},
   {"spacing": 8,
    "resolve": {"scale": {"color": "independent", "fill": "independent", "stroke": "independent", "shape": "independent"}},
    "vconcat": [
    {"spacing": 14,
     "resolve": {"scale": {"color": "independent", "fill": "independent", "stroke": "independent", "shape": "independent"}},
     "hconcat": [
     {"width": 1, "height": 1, "data": {"name": "none"}, "mark": "point"},
     {"title": {"text": "PCA cluster plot based on SPEI - Segment 2", "fontSize": 9.5, "offset": 3},
      "width": 300, "height": 235,
      "view": {"fill": "#EBEBEB", "stroke": null},
      "layer": [
       {"data": {"name": "mx2"}, "mark": {"type": "rule", "color": "white", "strokeWidth": 0.5},
        "encoding": {"x": {"field": "v", "type": "quantitative", "title": "Dim1 (83.5%)", "scale": {"domain": [-10.51, 6.38], "nice": false, "zero": false},
          "axis": {"values": [-10, -5, 0, 5], "format": "d", "title": "Dim1 (83.5%)", "titleFontSize": 9.8, "labelFontSize": 9.5, "tickSize": 2, "labelPadding": 1, "titlePadding": 2, "grid": true, "gridWidth": 1.1}}}},
       {"data": {"name": "my2"}, "mark": {"type": "rule", "color": "white", "strokeWidth": 0.5},
        "encoding": {"y": {"field": "v", "type": "quantitative", "title": "Dim2 (10.1%)", "scale": {"domain": [-4.43, 2.33], "nice": false, "zero": false},
          "axis": {"values": [-4, -2, 0, 2], "format": "d", "title": "Dim2 (10.1%)", "titleFontSize": 9.8, "labelFontSize": 9.5, "tickSize": 2, "labelPadding": 0, "titlePadding": 1, "minExtent": 11, "maxExtent": 11, "grid": true, "gridWidth": 1.1}}}},
       {"data": {"name": "h2"}, "mark": {"type": "line", "strokeWidth": 1, "fillOpacity": 0.22},
        "encoding": {"x": {"field": "x", "type": "quantitative", "title": "Dim1 (83.5%)"}, "y": {"field": "y", "type": "quantitative", "title": "Dim2 (10.1%)"},
          "order": {"field": "o", "type": "quantitative"},
          "stroke": {"field": "cl", "type": "nominal", "scale": {"domain": [5,2,4,3,1], "range": ["#E6194B","#3CB44B","#FFE119","#4363D8","#F58231"]}, "legend": null},
          "fill": {"field": "cl", "type": "nominal", "title": "cluster", "scale": {"domain": [5,2,4,3,1], "range": ["#E6194B","#3CB44B","#FFE119","#4363D8","#F58231"]}}}},
       {"data": {"name": "p2"}, "mark": {"type": "point", "filled": true, "size": 24, "strokeWidth": 1, "opacity": 1},
        "encoding": {"x": {"field": "x", "type": "quantitative", "title": "Dim1 (83.5%)"}, "y": {"field": "y", "type": "quantitative", "title": "Dim2 (10.1%)"},
          "fill": {"field": "cl", "type": "nominal", "title": "cluster", "scale": {"domain": [5,2,4,3,1], "range": ["#E6194B","#3CB44B","#FFE119","#4363D8","#F58231"]},
            "legend": {"title": "cluster", "orient": "none", "legendX": 312, "legendY": 34, "symbolType": "M-1,-1L1,-1L1,1L-1,1Z M-0.8,-0.8L-0.8,0.8L0.8,0.8L0.8,-0.8Z M0.42,0A0.42,0.42 0 1,1 -0.42,0A0.42,0.42 0 1,1 0.42,0Z", "symbolSize": 121, "symbolStrokeWidth": 0, "symbolOpacity": 1, "rowPadding": 1.8, "labelOffset": 5, "titleFontSize": 7.8, "labelFontSize": 6.5, "titlePadding": 6}},
          "stroke": {"field": "cl", "type": "nominal", "scale": {"domain": [5,2,4,3,1], "range": ["#E6194B","#3CB44B","#FFE119","#4363D8","#F58231"]}, "legend": null},
          "shape": {"field": "k", "type": "nominal", "scale": {"domain": [1,2,3,4,5], "range": ["circle","triangle-up","square","M-1.4,0L1.4,0M0,-1.4L0,1.4","M-1,-1L1,-1M1,-1L1,1M1,1L-1,1M-1,1L-1,-1M-1,-1L1,1M-1,1L1,-1"]},
            "legend": {"title": "cluster", "orient": "none", "legendX": 312, "legendY": 126, "symbolSize": 24, "symbolFillColor": "black", "symbolStrokeColor": "black", "symbolStrokeWidth": 1, "rowPadding": 2.3, "labelOffset": 6, "titleFontSize": 7.8, "labelFontSize": 6.5, "titlePadding": 5, "symbolOffset": 3}}}},
       {"data": {"name": "p2"}, "mark": {"type": "text", "fontSize": 9.4},
        "encoding": {"x": {"field": "lx", "type": "quantitative", "title": "Dim1 (83.5%)"}, "y": {"field": "ly", "type": "quantitative", "title": "Dim2 (10.1%)"}, "text": {"field": "name"},
          "fill": {"field": "cl", "type": "nominal", "title": "cluster", "scale": {"domain": [5,2,4,3,1], "range": ["#E6194B","#3CB44B","#FFE119","#4363D8","#F58231"]}}}}
      ]}
     ]},
    {"spacing": 14,
     "resolve": {"scale": {"color": "independent", "fill": "independent", "stroke": "independent", "shape": "independent"}},
     "hconcat": [
     {"width": 1, "height": 1, "data": {"name": "none"}, "mark": "point"},
     {"title": {"text": "PCA cluster plot based on SPEI - Segment 3", "fontSize": 9.5, "offset": 3.5},
      "width": 299, "height": 254,
      "view": {"fill": "#EBEBEB", "stroke": null},
      "layer": [
       {"data": {"name": "mx3"}, "mark": {"type": "rule", "color": "white", "strokeWidth": 0.5},
        "encoding": {"x": {"field": "v", "type": "quantitative", "title": "Dim1 (89.9%)", "scale": {"domain": [-5.22, 14.91], "nice": false, "zero": false},
          "axis": {"values": [-5, 0, 5, 10], "format": "d", "title": "Dim1 (89.9%)", "titleFontSize": 10, "labelFontSize": 9.5, "tickSize": 2, "labelPadding": 1, "titlePadding": 2, "grid": true, "gridWidth": 1.1}}}},
       {"data": {"name": "my3"}, "mark": {"type": "rule", "color": "white", "strokeWidth": 0.5},
        "encoding": {"y": {"field": "v", "type": "quantitative", "title": "Dim2 (3.8%)", "scale": {"domain": [-1.89, 2.27], "nice": false, "zero": false},
          "axis": {"values": [-1, 0, 1, 2], "format": "d", "title": "Dim2 (3.8%)", "titleFontSize": 10, "labelFontSize": 9.5, "tickSize": 2, "labelPadding": 1, "titlePadding": 2, "minExtent": 13.2, "maxExtent": 13.2, "grid": true, "gridWidth": 1.1}}}},
       {"data": {"name": "h3"}, "mark": {"type": "line", "strokeWidth": 1, "fillOpacity": 0.22},
        "encoding": {"x": {"field": "x", "type": "quantitative", "title": "Dim1 (89.9%)"}, "y": {"field": "y", "type": "quantitative", "title": "Dim2 (3.8%)"},
          "order": {"field": "o", "type": "quantitative"},
          "stroke": {"field": "cl", "type": "nominal", "scale": {"domain": [1,2,3,5,4], "range": ["#E6194B","#3CB44B","#FFE119","#4363D8","#F58231"]}, "legend": null},
          "fill": {"field": "cl", "type": "nominal", "title": "cluster", "scale": {"domain": [1,2,3,5,4], "range": ["#E6194B","#3CB44B","#FFE119","#4363D8","#F58231"]}}}},
       {"data": {"name": "p3"}, "mark": {"type": "point", "filled": true, "size": 26, "strokeWidth": 1, "opacity": 1},
        "encoding": {"x": {"field": "x", "type": "quantitative", "title": "Dim1 (89.9%)"}, "y": {"field": "y", "type": "quantitative", "title": "Dim2 (3.8%)"},
          "fill": {"field": "cl", "type": "nominal", "title": "cluster", "scale": {"domain": [1,2,3,5,4], "range": ["#E6194B","#3CB44B","#FFE119","#4363D8","#F58231"]},
            "legend": {"title": "cluster", "orient": "none", "legendX": 310, "legendY": 36, "symbolType": "M-1,-1L1,-1L1,1L-1,1Z M-0.8,-0.8L-0.8,0.8L0.8,0.8L0.8,-0.8Z M0.42,0A0.42,0.42 0 1,1 -0.42,0A0.42,0.42 0 1,1 0.42,0Z", "symbolSize": 130, "symbolStrokeWidth": 0, "symbolOpacity": 1, "rowPadding": 2, "labelOffset": 5, "titleFontSize": 7.8, "labelFontSize": 6.5, "titlePadding": 9}},
          "stroke": {"field": "cl", "type": "nominal", "scale": {"domain": [1,2,3,5,4], "range": ["#E6194B","#3CB44B","#FFE119","#4363D8","#F58231"]}, "legend": null},
          "shape": {"field": "k", "type": "nominal", "scale": {"domain": [1,2,3,4,5], "range": ["circle","triangle-up","square","M-1.4,0L1.4,0M0,-1.4L0,1.4","M-1,-1L1,-1M1,-1L1,1M1,1L-1,1M-1,1L-1,-1M-1,-1L1,1M-1,1L1,-1"]},
            "legend": {"title": "cluster", "orient": "none", "legendX": 310, "legendY": 137, "symbolSize": 26, "symbolFillColor": "black", "symbolStrokeColor": "black", "symbolStrokeWidth": 1, "rowPadding": 2.2, "labelOffset": 6, "titleFontSize": 7.8, "labelFontSize": 6.5, "titlePadding": 4, "symbolOffset": 3}}}},
       {"data": {"name": "p3"}, "mark": {"type": "text", "fontSize": 9.9},
        "encoding": {"x": {"field": "lx", "type": "quantitative", "title": "Dim1 (89.9%)"}, "y": {"field": "ly", "type": "quantitative", "title": "Dim2 (3.8%)"}, "text": {"field": "name"},
          "fill": {"field": "cl", "type": "nominal", "title": "cluster", "scale": {"domain": [1,2,3,5,4], "range": ["#E6194B","#3CB44B","#FFE119","#4363D8","#F58231"]}}}}
      ]}
     ]}
    ]}
   ]}
  ]}
 ]
}
